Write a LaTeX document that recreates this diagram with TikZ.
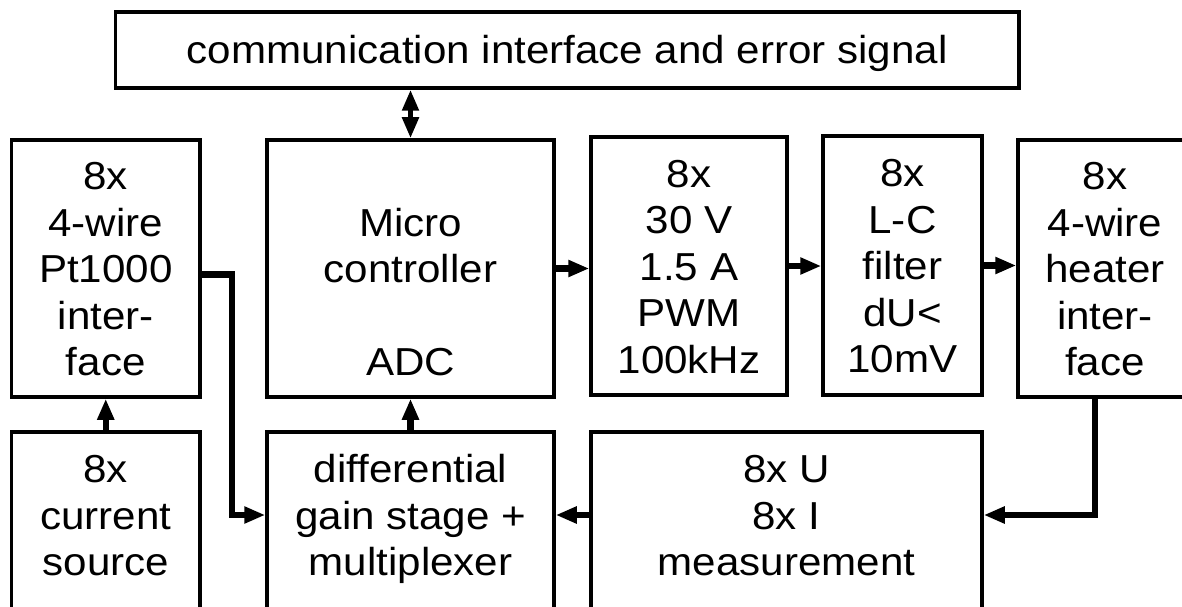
\documentclass[tikz,border=0pt]{standalone}
\usepackage{fontspec}
\setmainfont{Liberation Sans}[FakeStretch=1.08]
\usetikzlibrary{arrows.meta,calc}
\newcommand\ms{\rule[-9.25pt]{0pt}{46.5pt}}
\begin{document}
\begin{tikzpicture}[x=1pt,y=-1pt,
  box/.style={draw,line width=3.5pt,inner sep=0pt,align=center,font=\fontsize{39}{46.5}\selectfont},
  txt/.style={inner sep=0pt,align=center,font=\fontsize{39}{46.5}\selectfont},
  tip/.tip={Triangle[length=21pt,width=16pt]},
  conn/.style={line width=6.5pt,-tip},
  dbl/.style={line width=5pt,tip-tip}]
\useasboundingbox (0,0) rectangle (1182,607);
\fill[white] (0,0) rectangle (1182,607);
\clip (0,0) rectangle (1182,607);

\node[box,minimum width=903.5pt,minimum height=76pt] (top) at (567.25,50) {\ms communication interface and error signal};
\node[box,minimum width=188.5pt,minimum height=257pt] (pt) at (105.75,268.5) {\ms 8x\\4-wire\\Pt1000\\inter-\\face\ms};
\node[box,minimum width=287pt,minimum height=257pt] (mc) at (410.5,268.5) {\ms\\Micro\\controller\\\ms\\ADC\ms};
\node[box,minimum width=196pt,minimum height=258pt] (pwm) at (689,266) {\ms 8x\\30 V\\1.5 A\\PWM\\100kHz\ms};
\node[box,minimum width=159pt,minimum height=259pt] (lc) at (902.5,265.5) {\ms 8x\\L-C\\filter\\dU<\\10mV\ms};
\node[box,minimum width=174pt,minimum height=257pt] (heat) at (1105,268.5) {\ms 8x\\4-wire\\heater\\inter-\\face\ms};

\node[box,minimum width=188.5pt,minimum height=268pt] (cs) at (105.75,566) {};
\node[txt] (cst) at (105.75,515) {\ms 8x\\current\\source\ms};
\node[box,minimum width=287pt,minimum height=268pt] (diff) at (410.5,566) {};
\node[txt] (difft) at (410.5,515) {\ms differential\\gain stage +\\multiplexer\ms};
\node[box,minimum width=391pt,minimum height=268pt] (meas) at (786.5,566) {};
\node[txt] (meast) at (786.5,515) {\ms 8x U\\8x I\\measurement\ms};

\draw[dbl] (mc.north) -- (mc.north |- top.south);
\draw[conn] (mc.east) -- (mc.east -| pwm.west);
\draw[conn] (pwm.east) -- (pwm.east -| lc.west);
\draw[conn] (lc.east) -- (lc.east -| heat.west);
\draw[conn] (cs.north) -- (pt.south);
\draw[conn] (diff.north) -- (mc.south);
\draw[conn,line cap=round] ($(pt.east)+(0,6)$) -| ($(difft.center -| pt.east)+(30,0)$) -- (difft.center -| diff.west);
\draw[conn] ($(heat.south)+(-10,0)$) |- (meast.center -| meas.east);
\draw[conn] (meast.center -| meas.west) -- (difft.center -| diff.east);
\end{tikzpicture}
\end{document}
